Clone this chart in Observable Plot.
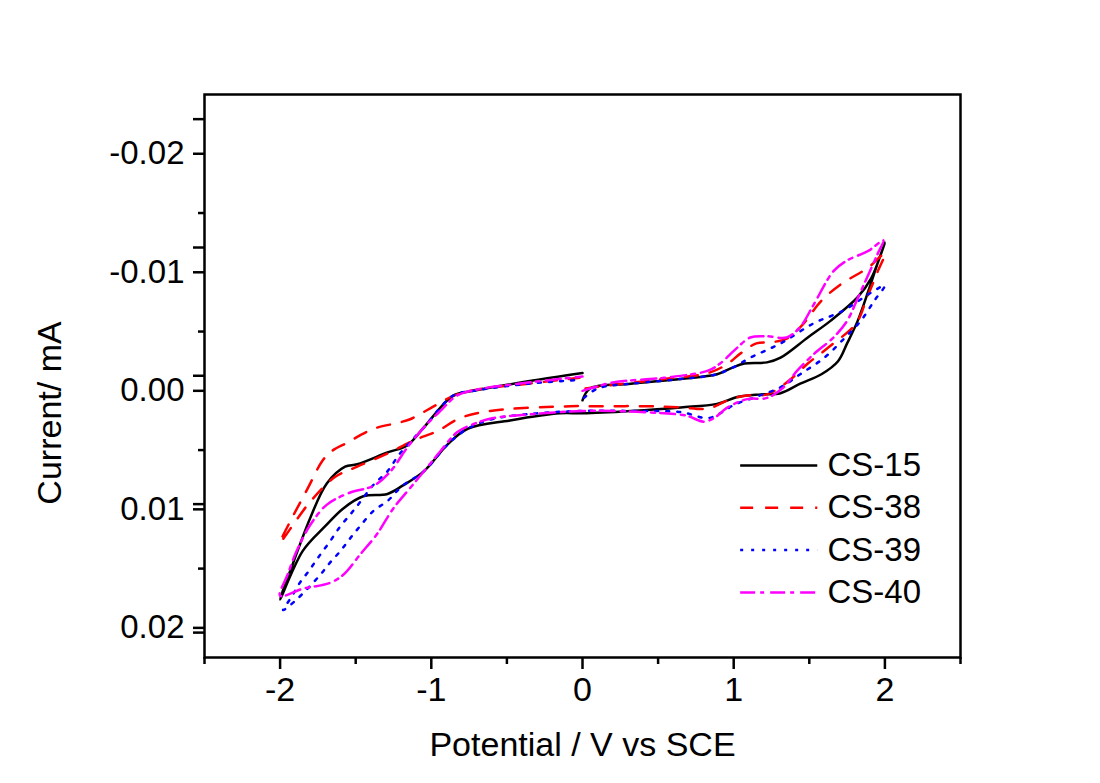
<!DOCTYPE html>
<html>
<head>
<meta charset="utf-8">
<script src="https://cdn.jsdelivr.net/npm/d3@7"></script>
<script src="https://cdn.jsdelivr.net/npm/@observablehq/plot@0.6"></script>
<style>
  body { margin: 0; background: #fff; }
</style>
</head>
<body>
<div id="chart"></div>
<script>
// ---- Data (potential V vs SCE, current mA) ----
const seriesNames = ["CS-15", "CS-38", "CS-39", "CS-40"];
const seriesColors = ["#000000", "#ff0000", "#0000ff", "#ff00ff"];
const seriesDash = [null, "13,12", "3,8", "15,5,4,6"];

const xMajorTicks = [-2, -1, 0, 1, 2];
const xMinorTicks = [-2.5, -1.5, -0.5, 0.5, 1.5, 2.5];
const yMajorTicks = [-0.02, -0.01, 0, 0.01, 0.02];
const yMinorTicks = [-0.015, -0.005, 0.005, 0.015];
const yExtraTicks = [-0.02292, -0.01209, -0.00127, 0.00956, 0.0204];

const cs15 = [
  [0.0, 0.0008], [0.05, -0.0002], [0.32, -0.0006], [0.65, -0.0010], [0.89, -0.0014],
  [0.98, -0.0019], [1.07, -0.0023], [1.22, -0.0024], [1.31, -0.0028], [1.49, -0.0045],
  [1.64, -0.0059], [1.82, -0.0079], [1.91, -0.0095], [2.0, -0.0125],
  [1.95, -0.0107], [1.89, -0.0084], [1.82, -0.0059], [1.75, -0.0040], [1.69, -0.0025],
  [1.58, -0.0014], [1.44, -0.0006], [1.31, 0.0002], [1.18, 0.0003], [1.03, 0.0005],
  [0.89, 0.0011], [0.65, 0.0014], [0.32, 0.0017], [0.0, 0.0019],
  [-0.15, 0.0019], [-0.48, 0.0025], [-0.76, 0.0032], [-0.89, 0.0045], [-1.05, 0.0068],
  [-1.19, 0.0080], [-1.29, 0.0087], [-1.45, 0.0089], [-1.58, 0.0099], [-1.70, 0.0114],
  [-1.85, 0.0135], [-2.0, 0.0176],
  [-1.91, 0.0144], [-1.80, 0.0107], [-1.69, 0.0078], [-1.57, 0.0064], [-1.49, 0.0062],
  [-1.29, 0.0052], [-1.16, 0.0046], [-1.05, 0.0031], [-0.855, 0.0004], [-0.72, 0.0000],
  [-0.36, -0.0008], [0.0, -0.0015]
];

const cs38 = [
  [0.02, -0.0002], [0.2, -0.0005], [0.54, -0.0010], [0.83, -0.0015], [0.95, -0.0022],
  [1.05, -0.0032], [1.15, -0.0040], [1.25, -0.0041], [1.35, -0.0044], [1.45, -0.0055],
  [1.58, -0.0076], [1.71, -0.0090], [1.89, -0.0104], [2.0, -0.0116],
  [1.95, -0.0100], [1.88, -0.0078], [1.81, -0.0057], [1.64, -0.0038], [1.49, -0.0023],
  [1.36, -0.0008], [1.22, 0.0003], [1.09, 0.0004], [0.98, 0.0007], [0.83, 0.0015],
  [0.65, 0.0014], [0.43, 0.0013], [0.12, 0.0013],
  [-0.08, 0.0013], [-0.61, 0.0017], [-0.81, 0.0023], [-0.96, 0.0034], [-1.12, 0.0042],
  [-1.29, 0.0053], [-1.49, 0.0064], [-1.64, 0.0073], [-1.81, 0.0095], [-2.0, 0.0128],
  [-1.92, 0.0107], [-1.82, 0.0083], [-1.72, 0.0059], [-1.66, 0.0051], [-1.56, 0.0044],
  [-1.38, 0.0032], [-1.22, 0.0027], [-1.14, 0.0024], [-1.01, 0.0015], [-0.85, 0.0004],
  [-0.70, -0.0001], [-0.36, -0.0006], [-0.02, -0.0011]
];

const cs39 = [
  [0.01, 0.0006], [0.1, -0.0002], [0.32, -0.0006], [0.65, -0.0010], [0.89, -0.0014],
  [1.0, -0.0020], [1.11, -0.0028], [1.31, -0.0040], [1.53, -0.0057], [1.73, -0.0068],
  [1.91, -0.0083], [2.0, -0.0089],
  [1.93, -0.0076], [1.84, -0.0059], [1.73, -0.0044], [1.60, -0.0028], [1.44, -0.0014],
  [1.31, -0.0003], [1.15, 0.0005], [1.0, 0.0012], [0.91, 0.0019], [0.83, 0.0023],
  [0.65, 0.0018], [0.32, 0.0017], [0.0, 0.0017],
  [-0.3, 0.0019], [-0.6, 0.0024], [-0.76, 0.0032], [-0.89, 0.0045], [-1.05, 0.0068],
  [-1.19, 0.0080], [-1.29, 0.0093], [-1.38, 0.0101], [-1.47, 0.0114], [-1.54, 0.0125],
  [-1.60, 0.0135], [-1.67, 0.0145], [-1.74, 0.0156], [-1.89, 0.0176], [-1.98, 0.0185],
  [-1.92, 0.0173], [-1.87, 0.0162], [-1.81, 0.0152], [-1.75, 0.0141], [-1.67, 0.0127],
  [-1.60, 0.0114], [-1.54, 0.0105], [-1.49, 0.0097], [-1.38, 0.0079], [-1.29, 0.0068],
  [-1.22, 0.0055], [-1.16, 0.0046], [-1.05, 0.0031], [-0.855, 0.0004], [-0.72, 0.0000],
  [-0.36, -0.0006], [-0.05, -0.0009]
];

const cs40 = [
  [0.0, 0.0000], [0.2, -0.0007], [0.54, -0.0011], [0.83, -0.0017], [0.91, -0.0023],
  [1.02, -0.0036], [1.11, -0.0045], [1.22, -0.0046], [1.35, -0.0045], [1.44, -0.0054],
  [1.53, -0.0073], [1.66, -0.0101], [1.75, -0.0110], [1.89, -0.0118], [1.99, -0.0127],
  [1.95, -0.0115], [1.88, -0.0095], [1.82, -0.0078], [1.75, -0.0059], [1.66, -0.0045],
  [1.53, -0.0031], [1.42, -0.0017], [1.33, -0.0003], [1.22, 0.0006], [1.09, 0.0007],
  [0.96, 0.0014], [0.87, 0.0023], [0.80, 0.0026], [0.69, 0.0021], [0.54, 0.0019],
  [0.2, 0.0017], [0.0, 0.0017],
  [-0.36, 0.0020], [-0.59, 0.0023], [-0.72, 0.0028], [-0.83, 0.0035], [-0.94, 0.0051],
  [-1.03, 0.0065], [-1.14, 0.0082], [-1.25, 0.0099], [-1.36, 0.0121], [-1.47, 0.0138],
  [-1.58, 0.0155], [-1.67, 0.0162], [-1.85, 0.0167], [-2.0, 0.0173],
  [-1.95, 0.0155], [-1.89, 0.0135], [-1.80, 0.0113], [-1.69, 0.0096], [-1.54, 0.0086],
  [-1.38, 0.0080], [-1.27, 0.0068], [-1.16, 0.0048], [-1.05, 0.0031], [-0.94, 0.0017],
  [-0.83, 0.0004], [-0.70, -0.0001], [-0.36, -0.0007], [0.0, -0.0012]
];

const seriesData = [cs15, cs38, cs39, cs40];

// legend anchor (data space)
const legendX1 = 1.046, legendX2 = 1.556, legendTextX = 1.62;
const legendY0 = 0.0063, legendStep = 0.00357;

const font = "'Liberation Sans', Arial, sans-serif";

const lineMarks = seriesData.map((arr, i) =>
  Plot.line(arr, {
    x: d => d[0], y: d => d[1],
    stroke: seriesColors[i], strokeWidth: 2.5,
    strokeDasharray: seriesDash[i] || undefined,
    curve: "catmull-rom"
  })
);

const legendLines = seriesNames.map((name, i) =>
  Plot.ruleY([legendY0 + i * legendStep], {
    x1: legendX1, x2: legendX2,
    stroke: seriesColors[i], strokeWidth: 2.5,
    strokeDasharray: seriesDash[i] || undefined
  })
);

const chart = Plot.plot({
  width: 1100,
  height: 783,
  marginLeft: 204,
  marginRight: 140,
  marginTop: 94,
  marginBottom: 126,
  style: { fontFamily: font, background: "#fff", color: "#000" },
  x: { domain: [-2.5, 2.5] },
  y: { domain: [-0.025, 0.0225], reverse: true },
  marks: [
    ...lineMarks,
    ...legendLines,
    Plot.text(seriesNames, {
      x: legendTextX, y: (d, i) => legendY0 + i * legendStep,
      text: d => d, textAnchor: "start", fontSize: 33, fill: "#000"
    }),
    Plot.axisX(xMajorTicks, { tickSize: 12, tickPadding: 7, strokeWidth: 2.5, fontSize: 34,
      tickFormat: d => String(d), label: null }),
    Plot.axisX(xMinorTicks, { tickSize: 7, strokeWidth: 2.5, tickFormat: () => "", label: null }),
    Plot.axisY(yMajorTicks, { tickSize: 11, tickPadding: 9, strokeWidth: 2.5, fontSize: 33,
      tickFormat: d => d.toFixed(2), label: null }),
    Plot.axisY(yMinorTicks, { tickSize: 6, strokeWidth: 2.5, tickFormat: () => "", label: null }),
    Plot.axisY(yExtraTicks, { tickSize: 11, strokeWidth: 2.5, tickFormat: () => "", label: null }),
    Plot.frame({ stroke: "#000", strokeWidth: 2.5 }),
    Plot.text(["Potential / V vs SCE"], { frameAnchor: "bottom", dy: 88, fontSize: 34,
      textAnchor: "middle", lineAnchor: "middle", fill: "#000" }),
    Plot.text(["Current/ mA"], { frameAnchor: "left", rotate: -90, dx: -154, dy: 37, fontSize: 34,
      textAnchor: "middle", lineAnchor: "middle", fill: "#000" })
  ]
});

document.getElementById("chart").appendChild(chart);
</script>
</body>
</html>
